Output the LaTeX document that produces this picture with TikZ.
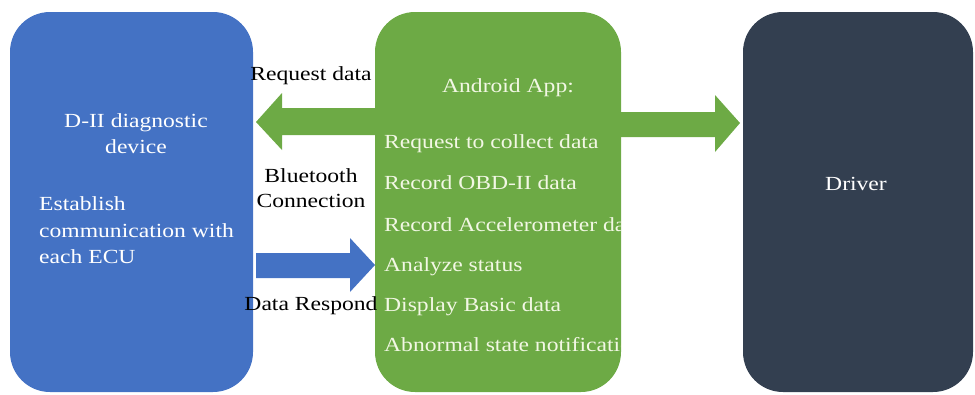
\documentclass[tikz,border=0pt]{standalone}
\usepackage{fontspec}
\setmainfont{Liberation Serif}[FakeStretch=1.18]
\definecolor{bluec}{HTML}{4472C4}
\definecolor{greenc}{HTML}{6DAA45}
\definecolor{darkc}{HTML}{333F50}
\definecolor{greentext}{HTML}{F2F7E4}
\begin{document}
\begin{tikzpicture}[x=1pt,y=-1pt,
  box/.style={rectangle, rounded corners=40pt, inner sep=0pt, outer sep=0pt, minimum height=380pt},
  txt/.style={font=\fontsize{20}{25}\selectfont, inner sep=0pt, anchor=base},
  ltxt/.style={txt, anchor=base west},
  white/.style={text=white},
  gtxt/.style={ltxt, text=greentext}]
\useasboundingbox (0,0) rectangle (975,394);
% boxes
\node[box, fill=bluec, minimum width=243pt] (dev) at (131.5,202) {};
\node[box, fill=greenc, minimum width=246pt] (app) at (498,202) {};
\node[box, fill=darkc, minimum width=230pt] (drv) at (858,202) {};
% arrows
\fill[greenc] (376,108) -- (282,108) -- (282,93) -- (256,122) -- (282,150) -- (282,135) -- (376,135) -- cycle;
\fill[bluec] (256,253) -- (350,253) -- (350,238) -- (375,265) -- (350,292) -- (350,278) -- (256,278) -- cycle;
\fill[greenc] (620,112) -- (715,112) -- (715,95) -- (740,123) -- (715,152) -- (715,137) -- (620,137) -- cycle;
% labels between boxes
\node[txt] (l1) at (311,80) {Request data};
\node[txt] (l2) at (311,182) {Bluetooth};
\node[txt] (l3) at (311,207) {Connection};
\node[txt] (l4) at (311,310) {Data Respond};
% device box text
\node[txt, white] (d1) at (136,127) {D-II diagnostic};
\node[txt, white] (d2) at (136,153) {device};
\node[ltxt, white] (d3) at (39,210) {Establish};
\node[ltxt, white] (d4) at (39,237) {communication with};
\node[ltxt, white] (d5) at (39,263) {each ECU};
% app box text
\begin{scope}
\clip[rounded corners=40pt] (app.south west) rectangle (app.north east);
\node[txt, text=greentext] (a0) at (508,92) {Android App:};
\node[gtxt] (a1) at (384,148) {Request to collect data};
\node[gtxt] (a2) at (384,189) {Record OBD-II data};
\node[gtxt] (a3) at (384,231) {Record Accelerometer data};
\node[gtxt] (a4) at (384,271) {Analyze status};
\node[gtxt] (a5) at (384,311) {Display Basic data};
\node[gtxt] (a6) at (384,351) {Abnormal state notification};
\end{scope}
% driver
\node[txt, white] (dr) at (856,190) {Driver};
\end{tikzpicture}
\end{document}
